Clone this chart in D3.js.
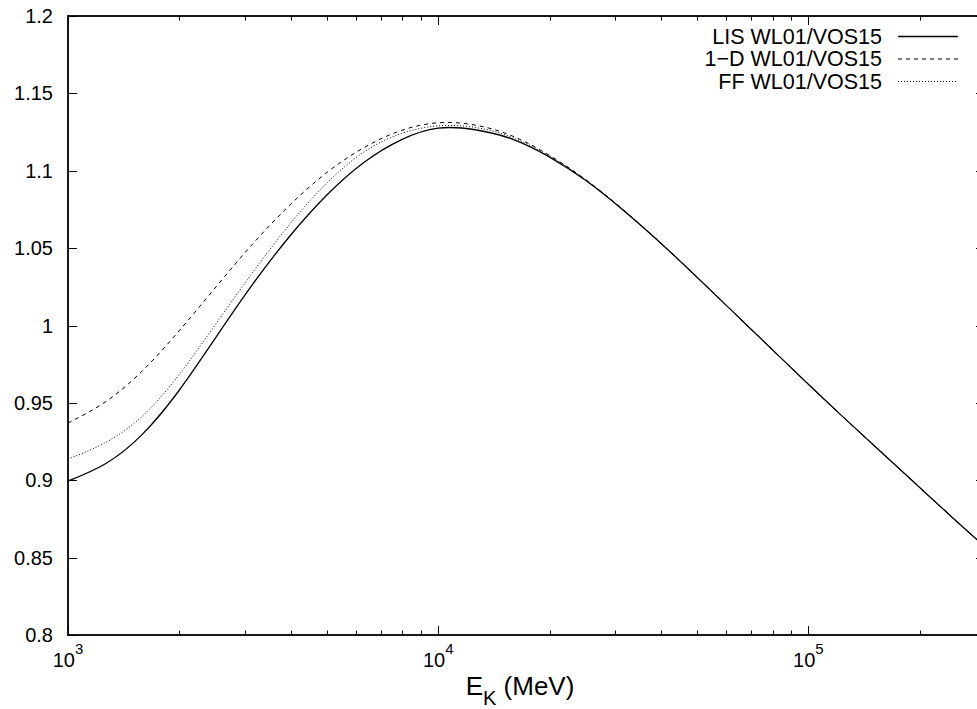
<!DOCTYPE html>
<html>
<head>
<meta charset="utf-8">
<script src="https://cdn.jsdelivr.net/npm/d3@7"></script>
<style>
  body { margin: 0; background: #fff; }
  svg text { font-family: "Liberation Sans", Arial, sans-serif; fill: #000; }
</style>
</head>
<body>
<svg id="chart" width="977" height="709"></svg>
<script>
// log10(E_K / MeV) sample points
var logE = [3.0, 3.1, 3.2, 3.3, 3.4, 3.5, 3.6, 3.7, 3.8, 3.9,
            4.0, 4.1, 4.2, 4.3, 4.4, 4.5, 4.6, 4.7, 4.8, 4.9,
            5.0, 5.1, 5.2, 5.3, 5.4, 5.5];

var lisVals = [0.8995, 0.9105, 0.9295, 0.958, 0.9925, 1.027, 1.058, 1.0845, 1.1055, 1.120,
               1.1275, 1.1265, 1.1205, 1.109, 1.0935, 1.0745, 1.0535, 1.031, 1.008, 0.985,
               0.962, 0.9395, 0.9175, 0.8955, 0.8735, 0.852];

var oneDVals = [0.937, 0.9505, 0.9705, 0.9965, 1.025, 1.053, 1.078, 1.099, 1.115, 1.126,
                1.131, 1.1295, 1.1225, 1.110, 1.094, 1.0748, 1.0535, 1.031, 1.008, 0.985,
                0.962, 0.9395, 0.9175, 0.8955, 0.8735, 0.852];

var ffVals = [0.9137, 0.9242, 0.9412, 0.9682, 1.0012, 1.0347, 1.0657, 1.0922, 1.1122, 1.124,
              1.129, 1.128, 1.1215, 1.1095, 1.0937, 1.0746, 1.0535, 1.031, 1.008, 0.985,
              0.962, 0.9395, 0.9175, 0.8955, 0.8735, 0.852];

var seriesNames = ["LIS WL01/VOS15", "1\u2212D WL01/VOS15", "FF WL01/VOS15"];
var seriesDash = [null, "4,4", "1,2"];
var yTicks = [0.8, 0.85, 0.9, 0.95, 1, 1.05, 1.1, 1.15, 1.2];
var yTickLabels = ["0.8", "0.85", "0.9", "0.95", "1", "1.05", "1.1", "1.15", "1.2"];
var xMajor = [1e3, 1e4, 1e5];
var xExp = ["3", "4", "5"];

function drawChart() {
  var svg = d3.select("#chart");
  var mLeft = 68, mTop = 16, mRight = 985, mBottom = 635;

  var x = d3.scaleLog().domain([1e3, 3e5]).range([mLeft, mRight]);
  var y = d3.scaleLinear().domain([0.8, 1.2]).range([mBottom, mTop]);

  var xMinor = [];
  [1e3, 1e4, 1e5].forEach(function(dec) {
    for (var k = 2; k <= 9; k++) if (dec * k <= 3e5) xMinor.push(dec * k);
  });

  svg.append("defs").append("clipPath").attr("id", "plotClip")
    .append("rect").attr("x", mLeft).attr("y", mTop)
    .attr("width", mRight - mLeft).attr("height", mBottom - mTop);

  // ticks, inward on all four sides
  var tg = svg.append("g").attr("stroke", "#000").attr("stroke-width", 1);
  xMajor.forEach(function(v) {
    var px = Math.round(x(v)) + 0.5;
    tg.append("line").attr("x1", px).attr("x2", px).attr("y1", mBottom).attr("y2", mBottom - 9);
    tg.append("line").attr("x1", px).attr("x2", px).attr("y1", mTop).attr("y2", mTop + 9);
  });
  xMinor.forEach(function(v) {
    var px = Math.round(x(v)) + 0.5;
    tg.append("line").attr("x1", px).attr("x2", px).attr("y1", mBottom).attr("y2", mBottom - 4.5);
    tg.append("line").attr("x1", px).attr("x2", px).attr("y1", mTop).attr("y2", mTop + 4.5);
  });
  yTicks.forEach(function(v) {
    var py = Math.round(y(v)) + 0.5;
    tg.append("line").attr("x1", mLeft).attr("x2", mLeft + 9).attr("y1", py).attr("y2", py);
    tg.append("line").attr("x1", mRight).attr("x2", mRight - 9).attr("y1", py).attr("y2", py);
  });

  // frame
  svg.append("rect").attr("x", mLeft).attr("y", mTop)
    .attr("width", mRight - mLeft).attr("height", mBottom - mTop)
    .attr("fill", "none").attr("stroke", "#000").attr("stroke-width", 1.8);

  // y tick labels
  svg.append("g").selectAll("text").data(yTicks).enter().append("text")
    .attr("x", 53).attr("y", function(d) { return y(d); })
    .attr("dy", "0.35em").attr("text-anchor", "end")
    .style("font-size", "20px")
    .text(function(d, i) { return yTickLabels[i]; });

  // x tick labels 10^n
  var xl = svg.append("g").selectAll("text").data(xMajor).enter().append("text")
    .attr("x", function(d) { return x(d); }).attr("y", 667)
    .attr("text-anchor", "middle").style("font-size", "20px");
  xl.append("tspan").text("10");
  xl.append("tspan").attr("dy", -13).style("font-size", "15px").text(function(d, i) { return xExp[i]; });

  // x axis title
  var xt = svg.append("text").attr("x", 520).attr("y", 695).attr("text-anchor", "middle").style("font-size", "26px");
  xt.append("tspan").text("E");
  xt.append("tspan").attr("dy", 10).style("font-size", "20px").text("K");
  xt.append("tspan").attr("dy", -10).text(" (MeV)");

  // curves
  var allSeries = [lisVals, oneDVals, ffVals];
  var line = d3.line()
    .x(function(d, i) { return x(Math.pow(10, logE[i])); })
    .y(function(d) { return y(d); })
    .curve(d3.curveNatural);

  svg.append("g").attr("clip-path", "url(#plotClip)")
    .selectAll("path").data(allSeries).enter().append("path")
    .attr("d", line)
    .attr("fill", "none").attr("stroke", "#000")
    .attr("stroke-width", function(d, i) { return i == 0 ? 1.3 : 1; })
    .attr("stroke-dasharray", function(d, i) { return seriesDash[i]; });

  // legend
  var lg = svg.append("g").selectAll("g").data(seriesNames).enter().append("g")
    .attr("transform", function(d, i) { return "translate(0," + (36 + i * 22.5) + ")"; });
  lg.append("text").attr("x", 882).attr("dy", "0.35em").attr("text-anchor", "end")
    .style("font-size", "21.5px").text(function(d) { return d; });
  lg.append("line").attr("x1", 898).attr("x2", 958).attr("y1", 0.5).attr("y2", 0.5)
    .attr("stroke", "#000").attr("stroke-width", function(d, i) { return i == 0 ? 1.3 : 1; })
    .attr("stroke-dasharray", function(d, i) { return seriesDash[i]; });
}

drawChart();
</script>
</body>
</html>
